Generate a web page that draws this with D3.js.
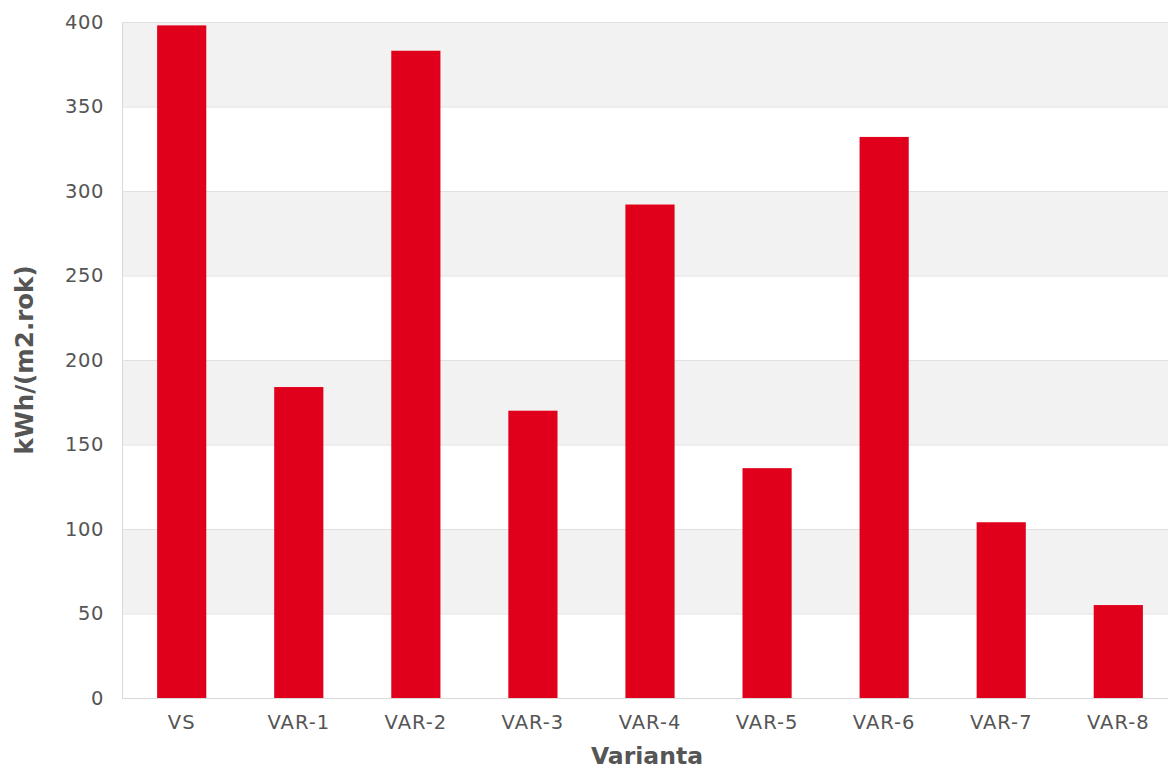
<!DOCTYPE html>
<html>
<head>
<meta charset="utf-8">
<script src="https://cdn.jsdelivr.net/npm/d3@7"></script>
<style>
  html, body { margin: 0; padding: 0; background: #fff; }
  svg { display: block; font-family: "DejaVu Sans", sans-serif; }
</style>
</head>
<body>
<svg id="chart" width="1168" height="769"></svg>
<script>
// Energy demand per variant
const categories = ["VS", "VAR-1", "VAR-2", "VAR-3", "VAR-4", "VAR-5", "VAR-6", "VAR-7", "VAR-8"];
const values = [398, 184, 383, 170, 292, 136, 332, 104, 55];
const yTicks = [0, 50, 100, 150, 200, 250, 300, 350, 400];
const yTitle = "kWh/(m2.rok)";
const xTitle = "Varianta";

const svg = d3.select("#chart");
const plotLeft = 122, plotRight = 1178, plotTop = 22, plotBottom = 698;

const x = d3.scaleBand()
  .domain(categories)
  .range([plotLeft, plotRight])
  .paddingInner(0.58)
  .paddingOuter(0.3);

const y = d3.scaleLinear().domain([0, 400]).range([plotBottom, plotTop]);

// Alternating background bands
const bandPairs = d3.pairs(yTicks);
svg.append("g").selectAll("rect")
  .data(bandPairs)
  .join("rect")
  .attr("x", plotLeft)
  .attr("width", plotRight - plotLeft)
  .attr("y", d => y(d[1]))
  .attr("height", d => y(d[0]) - y(d[1]))
  .attr("fill", (d, i) => i % 2 === 1 ? "#f2f2f2" : "#ffffff");

// Gridlines and y-axis labels
const yAxis = d3.axisLeft(y)
  .tickValues(yTicks)
  .tickSize(-(plotRight - plotLeft))
  .tickPadding(18);
const gy = svg.append("g")
  .attr("transform", `translate(${plotLeft},0)`)
  .call(yAxis);
gy.select(".domain").attr("stroke", "#d9d9d9");
gy.selectAll(".tick line").attr("stroke", "#e0e0e0");
gy.selectAll(".tick text")
  .attr("fill", "#555")
  .attr("font-size", 19.5)
  .attr("letter-spacing", 0.6)
  .attr("font-family", "DejaVu Sans, sans-serif");

// Bars
svg.append("g").selectAll("rect")
  .data(values)
  .join("rect")
  .attr("x", (d, i) => x(categories[i]))
  .attr("width", x.bandwidth())
  .attr("y", d => y(d))
  .attr("height", d => y(0) - y(d))
  .attr("fill", "#e0001b");

// Baseline
svg.append("line")
  .attr("x1", plotLeft).attr("x2", plotRight)
  .attr("y1", plotBottom + 0.5).attr("y2", plotBottom + 0.5)
  .attr("stroke", "#d9d9d9");

// X axis labels
const xAxis = d3.axisBottom(x).tickSize(0).tickPadding(17);
const gx = svg.append("g")
  .attr("transform", `translate(0,${plotBottom})`)
  .call(xAxis);
gx.select(".domain").remove();
gx.selectAll(".tick text")
  .attr("fill", "#555")
  .attr("font-size", 19.5)
  .attr("letter-spacing", 1)
  .attr("font-family", "DejaVu Sans, sans-serif");

// Axis titles
svg.append("text")
  .attr("x", 647)
  .attr("y", 764)
  .attr("text-anchor", "middle")
  .attr("font-size", 23.5)
  .attr("font-weight", "bold")
  .attr("fill", "#555")
  .text(xTitle);

svg.append("text")
  .attr("transform", `translate(33,${(plotTop + plotBottom) / 2}) rotate(-90)`)
  .attr("text-anchor", "middle")
  .attr("font-size", 24.5)
  .attr("font-weight", "bold")
  .attr("fill", "#555")
  .text(yTitle);
</script>
</body>
</html>
